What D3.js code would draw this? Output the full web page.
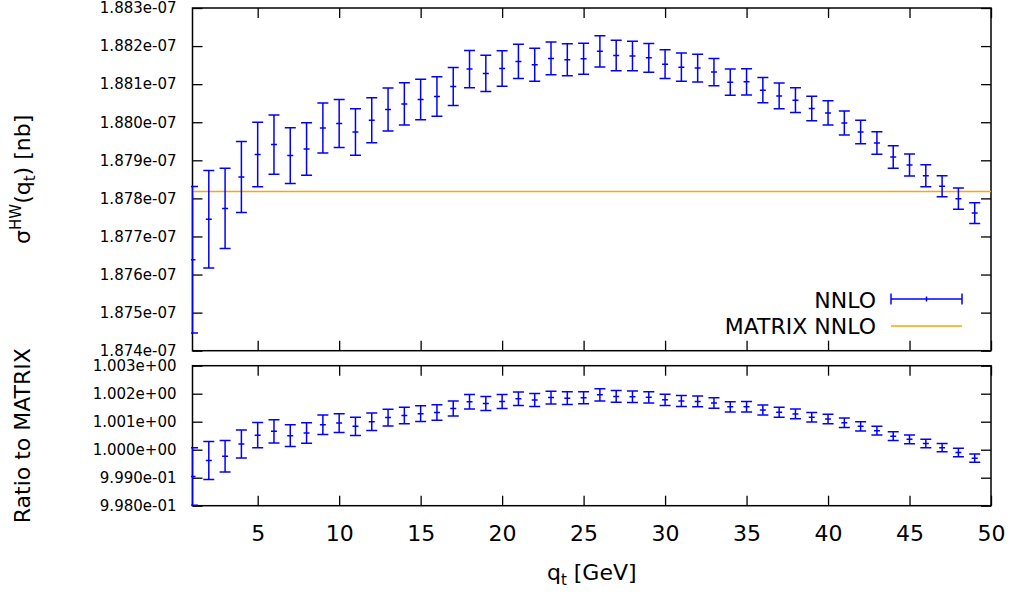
<!DOCTYPE html>
<html>
<head>
<meta charset="utf-8">
<script src="https://cdn.jsdelivr.net/npm/d3@7"></script>
<style>
  body { margin: 0; background: #fff; }
  text { font-family: "DejaVu Sans", sans-serif; fill: #000; }
</style>
</head>
<body>
<svg id="chart" width="1011" height="597"></svg>
<script>
// q_t bin positions [GeV]
var qt = [1, 2, 3, 4, 5, 6, 7, 8, 9, 10, 11, 12, 13, 14, 15, 16, 17, 18, 19, 20,
          21, 22, 23, 24, 25, 26, 27, 28, 29, 30, 31, 32, 33, 34, 35, 36, 37, 38, 39, 40,
          41, 42, 43, 44, 45, 46, 47, 48, 49];

// NNLO cross section [nb] and its error
var nnlo = [1.876387e-7, 1.877455e-7, 1.877737e-7, 1.878561e-7, 1.879150e-7, 1.879413e-7, 1.879124e-7,
            1.879297e-7, 1.879850e-7, 1.879966e-7, 1.879745e-7, 1.880053e-7, 1.880334e-7, 1.880482e-7,
            1.880597e-7, 1.880676e-7, 1.880939e-7, 1.881395e-7, 1.881282e-7, 1.881413e-7, 1.881597e-7,
            1.881508e-7, 1.881676e-7, 1.881639e-7, 1.881666e-7, 1.881861e-7, 1.881755e-7, 1.881737e-7,
            1.881692e-7, 1.881526e-7, 1.881447e-7, 1.881421e-7, 1.881316e-7, 1.881053e-7, 1.881061e-7,
            1.880842e-7, 1.880692e-7, 1.880579e-7, 1.880361e-7, 1.880245e-7, 1.879982e-7, 1.879745e-7,
            1.879455e-7, 1.879087e-7, 1.878876e-7, 1.878597e-7, 1.878316e-7, 1.877992e-7, 1.877613e-7];

var nnloErr = [1.925e-10, 1.280e-10, 1.053e-10, 0.934e-10, 0.847e-10, 0.780e-10, 0.732e-10,
               0.692e-10, 0.658e-10, 0.628e-10, 0.611e-10, 0.592e-10, 0.566e-10, 0.553e-10,
               0.530e-10, 0.518e-10, 0.500e-10, 0.487e-10, 0.474e-10, 0.466e-10, 0.451e-10,
               0.434e-10, 0.430e-10, 0.421e-10, 0.408e-10, 0.408e-10, 0.400e-10, 0.387e-10,
               0.378e-10, 0.375e-10, 0.372e-10, 0.364e-10, 0.355e-10, 0.346e-10, 0.346e-10,
               0.333e-10, 0.337e-10, 0.324e-10, 0.320e-10, 0.320e-10, 0.316e-10, 0.308e-10,
               0.293e-10, 0.293e-10, 0.289e-10, 0.289e-10, 0.276e-10, 0.279e-10, 0.271e-10];

// MATRIX NNLO reference value [nb]
var matrixNNLO = 1.87818e-7;

// tick labels
var xTicks = [5, 10, 15, 20, 25, 30, 35, 40, 45, 50];
var topTicks = [1.874e-7, 1.875e-7, 1.876e-7, 1.877e-7, 1.878e-7, 1.879e-7, 1.880e-7, 1.881e-7, 1.882e-7, 1.883e-7];
var ratioTicks = [0.998, 0.999, 1.000, 1.001, 1.002, 1.003];

var svg = d3.select("#chart");
var blue = "#0000ff", orange = "#ffa500";

var x = d3.scaleLinear().domain([1, 50]).range([192.5, 991]);
var yTop = d3.scaleLinear().domain([1.874e-7, 1.883e-7]).range([350.7, 8]);
var yBot = d3.scaleLinear().domain([0.998, 1.003]).range([505.7, 365.7]);

// gnuplot style "%.3e" with 2-digit exponent
function expFmt(v) {
    var parts = v.toExponential(3).split("e");
    var e = parseInt(parts[1], 10);
    var s = e < 0 ? "-" : "+";
    e = Math.abs(e);
    return parts[0] + "e" + s + (e < 10 ? "0" + e : e);
}

function styleAxis(g, size) {
    g.select(".domain").remove();
    g.selectAll(".tick line").attr("stroke", "#000").attr("stroke-width", 1.3);
    g.selectAll(".tick text").style("font-size", size + "px").attr("fill", "#000");
}

function drawPanel(y, yTicks, name, showXLabels) {
    var left = x.range()[0], right = x.range()[1];
    var bottom = y.range()[0], top = y.range()[1];

    svg.append("clipPath").attr("id", "clip-" + name)
        .append("rect")
        .attr("x", left - 1.5).attr("y", top)
        .attr("width", right - left + 1.5).attr("height", bottom - top);

    svg.append("g").attr("transform", "translate(" + left + ",0)")
        .call(d3.axisLeft(y).tickValues(yTicks).tickFormat(expFmt)
            .tickSizeInner(-10).tickSizeOuter(0).tickPadding(16))
        .call(styleAxis, 15);

    svg.append("g").attr("transform", "translate(" + right + ",0)")
        .call(d3.axisRight(y).tickValues(yTicks).tickFormat("")
            .tickSizeInner(-10).tickSizeOuter(0))
        .call(styleAxis, 15);

    svg.append("g").attr("transform", "translate(0," + top + ")")
        .call(d3.axisTop(x).tickValues(xTicks).tickFormat("")
            .tickSizeInner(-10).tickSizeOuter(0))
        .call(styleAxis, 22);

    svg.append("g").attr("transform", "translate(0," + bottom + ")")
        .call(d3.axisBottom(x).tickValues(xTicks).tickFormat(showXLabels ? d3.format("d") : "")
            .tickSizeInner(-10).tickSizeOuter(0).tickPadding(20))
        .call(styleAxis, 22);

    // border first, data goes on top of it
    svg.append("rect")
        .attr("x", left).attr("y", top)
        .attr("width", right - left).attr("height", bottom - top)
        .attr("fill", "none").attr("stroke", "#000").attr("stroke-width", 1.5);

    return svg.append("g").attr("clip-path", "url(#clip-" + name + ")");
}

function errorBars(g, rows, y) {
    var bars = g.selectAll("g.bar").data(rows).enter()
        .append("g").attr("class", "bar")
        .attr("stroke", blue).attr("stroke-width", 1.5);

    bars.append("line")
        .attr("x1", function (d) { return x(d.q); })
        .attr("x2", function (d) { return x(d.q); })
        .attr("y1", function (d) { return y(d.v - d.e); })
        .attr("y2", function (d) { return y(d.v + d.e); });
    [1, -1].forEach(function (s) {
        bars.append("line")
            .attr("x1", function (d) { return x(d.q) - 5.5; })
            .attr("x2", function (d) { return x(d.q) + 5.5; })
            .attr("y1", function (d) { return y(d.v + s * d.e); })
            .attr("y2", function (d) { return y(d.v + s * d.e); });
    });
    bars.append("line")
        .attr("x1", function (d) { return x(d.q) - 3; })
        .attr("x2", function (d) { return x(d.q) + 3; })
        .attr("y1", function (d) { return y(d.v); })
        .attr("y2", function (d) { return y(d.v); });
}

var topRows = qt.map(function (q, i) { return {q: q, v: nnlo[i], e: nnloErr[i]}; });
var ratioRows = qt.map(function (q, i) { return {q: q, v: nnlo[i] / matrixNNLO, e: nnloErr[i] / matrixNNLO}; });

// top panel
var gTop = drawPanel(yTop, topTicks, "top", false);
gTop.append("line")
    .attr("x1", x.range()[0]).attr("x2", x.range()[1])
    .attr("y1", yTop(matrixNNLO)).attr("y2", yTop(matrixNNLO))
    .attr("stroke", orange).attr("stroke-width", 1.5);
errorBars(gTop, topRows, yTop);

// ratio panel
var gBot = drawPanel(yBot, ratioTicks, "bot", true);
errorBars(gBot, ratioRows, yBot);

// legend
var legX = 876, sx0 = 891, sx1 = 962;
svg.append("text").attr("x", legX).attr("y", 308).attr("text-anchor", "end")
    .style("font-size", "22px").text("NNLO");
svg.append("text").attr("x", legX).attr("y", 334).attr("text-anchor", "end")
    .style("font-size", "22px").text("MATRIX NNLO");
var lg = svg.append("g").attr("stroke", blue).attr("stroke-width", 1.5);
lg.append("line").attr("x1", sx0).attr("x2", sx1).attr("y1", 299).attr("y2", 299);
lg.append("line").attr("x1", sx0).attr("x2", sx0).attr("y1", 293.5).attr("y2", 304.5);
lg.append("line").attr("x1", sx1).attr("x2", sx1).attr("y1", 293.5).attr("y2", 304.5);
lg.append("line").attr("x1", (sx0 + sx1) / 2).attr("x2", (sx0 + sx1) / 2).attr("y1", 296.5).attr("y2", 301.5);
svg.append("line").attr("x1", sx0).attr("x2", sx1).attr("y1", 326).attr("y2", 326)
    .attr("stroke", orange).attr("stroke-width", 1.5);

// axis titles
var yt = svg.append("text")
    .attr("transform", "translate(30," + ((yTop.range()[0] + yTop.range()[1]) / 2) + ") rotate(-90)")
    .attr("text-anchor", "middle").style("font-size", "22px");
yt.append("tspan").text("σ");
yt.append("tspan").attr("dy", -9).style("font-size", "15px").text("HW");
yt.append("tspan").attr("dy", 9).text("(q");
yt.append("tspan").attr("dy", 5).style("font-size", "15px").text("t");
yt.append("tspan").attr("dy", -5).text(") [nb]");

svg.append("text")
    .attr("transform", "translate(30," + ((yBot.range()[0] + yBot.range()[1]) / 2) + ") rotate(-90)")
    .attr("text-anchor", "middle").style("font-size", "22px")
    .text("Ratio to MATRIX");

var xt = svg.append("text")
    .attr("x", (x.range()[0] + x.range()[1]) / 2).attr("y", 580)
    .attr("text-anchor", "middle").style("font-size", "22px");
xt.append("tspan").text("q");
xt.append("tspan").attr("dy", 5).style("font-size", "15px").text("t");
xt.append("tspan").attr("dy", -5).text(" [GeV]");
</script>
</body>
</html>
